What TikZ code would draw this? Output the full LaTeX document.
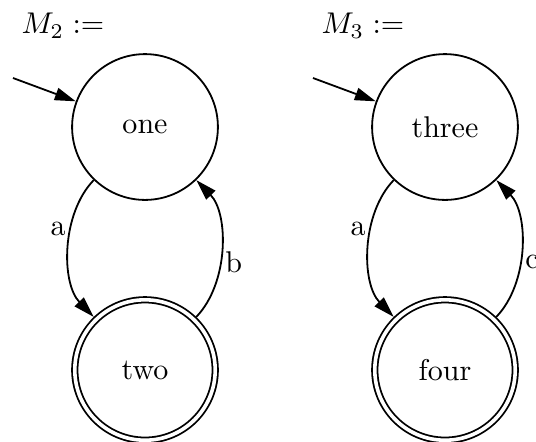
\documentclass[tikz,border=0pt]{standalone}
\usetikzlibrary{arrows.meta}
\begin{document}
\begin{tikzpicture}[x=0.3333pt,y=0.3333pt,
  state/.style={circle,draw,line width=0.6pt,minimum size=48.6pt,inner sep=0pt},
  accept/.style={circle,draw,line width=0.6pt,double,double distance=1.2pt,minimum size=46.8pt,inner sep=0pt,outer sep=1.2pt},
  edge/.style={line width=0.6pt,-{Triangle[length=7pt,width=4.2pt]}},
  curve/.style={bend right=44,looseness=0.88},
  lab/.style={inner sep=1.5pt},
  title/.style={anchor=base west,inner sep=0pt}]
\clip (0,0) rectangle (536,441);
% first automaton
\node[title] (m2) at (21,407.5) {$M_2 :=$};
\node[state] (one) at (145,314) {one};
\node[accept] (two) at (145,71) {two};
\coordinate (i1) at (13,363);
\draw[edge] (i1) -- (one);
\draw[edge] (one) to[curve] node[pos=0.37,left,lab] {a} (two);
\draw[edge] (two) to[curve] node[pos=0.41,right,lab] {b} (one);
% second automaton
\node[title] (m3) at (321,407.5) {$M_3 :=$};
\node[state] (three) at (445,314) {three};
\node[accept] (four) at (445,71) {four};
\coordinate (i2) at (313,363);
\draw[edge] (i2) -- (three);
\draw[edge] (three) to[curve] node[pos=0.37,left,lab] {a} (four);
\draw[edge] (four) to[curve] node[pos=0.41,right,lab] {c} (three);
\end{tikzpicture}
\end{document}
